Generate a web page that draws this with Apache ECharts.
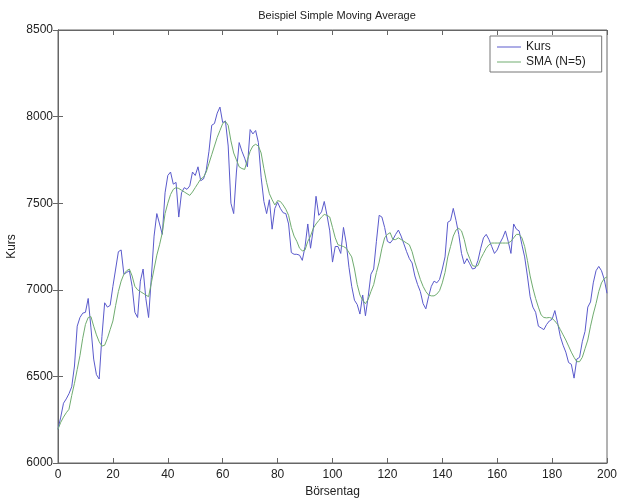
<!DOCTYPE html>
<html>
<head>
<meta charset="utf-8">
<script src="https://cdn.jsdelivr.net/npm/echarts@6/dist/echarts.min.js"></script>
<style>
html,body{margin:0;padding:0;background:#fff;}
#chart{width:619px;height:499px;}
</style>
</head>
<body>
<div id="chart"></div>
<script>
const kurs = [
6195,6265,6345,6370,6400,6440,6560,6790,6840,6865,
6870,6950,6780,6600,6510,6485,6730,6925,6900,6910,
7020,7120,7220,7230,7090,7100,7110,7020,6870,6840,
7050,7120,6950,6840,7070,7310,7440,7380,7320,7560,
7660,7680,7610,7620,7420,7560,7590,7580,7600,7680,
7660,7710,7630,7640,7690,7800,7950,7960,8020,8055,
7965,7975,7830,7500,7440,7680,7850,7800,7760,7710,
7925,7900,7920,7850,7650,7510,7440,7520,7350,7470,
7505,7470,7445,7440,7380,7215,7205,7205,7200,7170,
7250,7380,7240,7350,7540,7430,7450,7510,7430,7340,
7160,7250,7250,7210,7360,7270,7130,7020,6940,6915,
6860,6970,6850,6960,7090,7120,7280,7430,7420,7360,
7280,7270,7290,7320,7345,7310,7265,7220,7180,7155,
7080,7030,6990,6920,6890,6960,7020,7050,7040,7060,
7120,7190,7390,7400,7470,7400,7320,7210,7150,7180,
7150,7120,7125,7170,7240,7300,7320,7290,7250,7210,
7230,7270,7300,7340,7280,7210,7380,7350,7340,7260,
7190,7080,6960,6900,6870,6790,6780,6770,6800,6820,
6830,6880,6810,6730,6680,6640,6580,6570,6490,6600,
6610,6700,6760,6900,6930,7040,7110,7135,7110,7060,
6980
];
const sma = [
6195,6235,6265,6290,6310,6390,6460,6540,6620,6720,
6800,6840,6845,6790,6740,6700,6675,6680,6720,6770,
6820,6910,6990,7050,7090,7110,7120,7080,7020,7000,
6990,6980,6970,6960,7040,7120,7200,7260,7330,7440,
7500,7550,7580,7590,7585,7575,7565,7555,7545,7565,
7590,7615,7640,7650,7680,7730,7780,7830,7880,7920,
7960,7972,7950,7860,7790,7750,7710,7700,7695,7750,
7800,7830,7840,7830,7790,7700,7620,7555,7520,7490,
7515,7510,7490,7465,7430,7360,7310,7280,7240,7225,
7230,7280,7310,7355,7380,7400,7420,7435,7430,7420,
7360,7300,7260,7255,7250,7240,7215,7190,7120,7030,
6970,6940,6920,6945,6990,7030,7100,7160,7240,7300,
7320,7330,7290,7290,7300,7290,7280,7270,7260,7220,
7160,7110,7060,7020,6990,6970,6965,6965,6975,6995,
7040,7100,7190,7250,7310,7345,7355,7340,7290,7220,
7180,7140,7135,7140,7180,7210,7240,7260,7270,7270,
7270,7270,7270,7270,7270,7280,7300,7320,7320,7300,
7250,7170,7080,7010,6950,6900,6855,6840,6838,6840,
6835,6820,6800,6770,6740,6710,6675,6640,6610,6585,
6585,6610,6660,6710,6790,6860,6920,6990,7040,7065,
7075
];
const days = kurs.map((_, i) => i);
const xTicks = [0,20,40,60,80,100,120,140,160,180,200];
const yTicks = [6000,6500,7000,7500,8000,8500];

const chart = echarts.init(document.getElementById('chart'), null, {renderer:'canvas'});
const font = 'Liberation Sans, Arial, sans-serif';
const tickStyle = {show:true, inside:true, length:5, lineStyle:{color:'#666', width:1}};
const lineStyleAxis = {show:true, lineStyle:{color:'#666', width:1}};
chart.setOption({
  animation:false,
  backgroundColor:'#fff',
  title:{
    text:'Beispiel Simple Moving Average',
    left:332, top:5, textAlign:'center',
    textStyle:{fontFamily:font, fontSize:11, fontWeight:'normal', color:'#222'}
  },
  legend:{
    left:490, top:36,
    orient:'vertical',
    data:['Kurs','SMA (N=5)'],
    icon:'rect', itemWidth:24, itemHeight:1, itemGap:3,
    padding:[5,16,4,7],
    backgroundColor:'#fff',
    borderColor:'#777', borderWidth:1,
    textStyle:{fontFamily:font, fontSize:12, color:'#222'}
  },
  grid:{left:58, right:12, top:30, bottom:36, show:true, borderColor:'#666', borderWidth:1,
        containLabel:false, outerBoundsMode:'none'},
  xAxis:[{
    type:'value', min:xTicks[0], max:xTicks[xTicks.length-1], interval:20,
    name:'Börsentag', nameLocation:'middle', nameGap:23, nameMoveOverlap:false,
    nameTextStyle:{fontFamily:font, fontSize:12, color:'#222'},
    axisLine:lineStyleAxis, axisTick:tickStyle,
    axisLabel:{fontFamily:font, fontSize:12, color:'#222', margin:6},
    splitLine:{show:false}
  },{
    type:'value', position:'top', min:xTicks[0], max:xTicks[xTicks.length-1], interval:20,
    axisLine:lineStyleAxis, axisTick:tickStyle, axisLabel:{show:false}, splitLine:{show:false}
  }],
  yAxis:[{
    type:'value', min:yTicks[0], max:yTicks[yTicks.length-1], interval:500,
    name:'Kurs', nameLocation:'middle', nameGap:40, nameRotate:90, nameMoveOverlap:false,
    nameTextStyle:{fontFamily:font, fontSize:12, color:'#222'},
    axisLine:lineStyleAxis, axisTick:tickStyle,
    axisLabel:{fontFamily:font, fontSize:12, color:'#222', margin:5, formatter:(v)=>String(v)},
    splitLine:{show:false}
  },{
    type:'value', position:'right', min:yTicks[0], max:yTicks[yTicks.length-1], interval:500,
    axisLine:lineStyleAxis, axisTick:tickStyle, axisLabel:{show:false}, splitLine:{show:false}
  }],
  series:[{
    name:'Kurs', type:'line', showSymbol:false, symbol:'none',
    data: days.map((d,i)=>[d, kurs[i]]),
    lineStyle:{color:'#5a5acc', width:1}, itemStyle:{color:'#5a5acc'}
  },{
    name:'SMA (N=5)', type:'line', showSymbol:false, symbol:'none',
    data: days.map((d,i)=>[d, sma[i]]),
    lineStyle:{color:'#70ac70', width:1}, itemStyle:{color:'#70ac70'}
  }]
});
</script>
</body>
</html>
